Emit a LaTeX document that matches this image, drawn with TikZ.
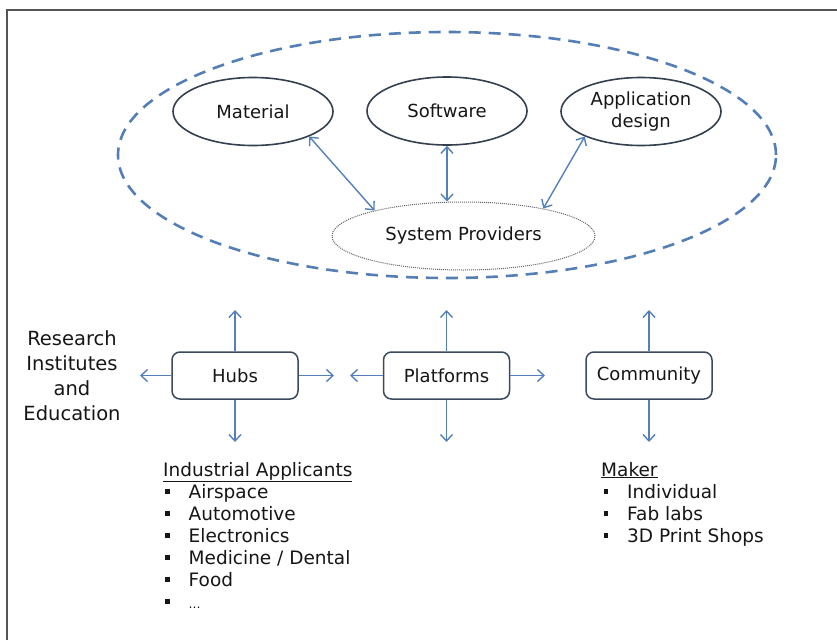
\documentclass[tikz,border=0pt]{standalone}
\usepackage{fontspec}
\setmainfont{DejaVu Sans}
\usetikzlibrary{shapes.geometric,arrows.meta}

\definecolor{txt}{RGB}{22,22,22}
\definecolor{ovalline}{RGB}{52,64,80}
\definecolor{boxline}{RGB}{58,74,92}
\definecolor{arrowblue}{RGB}{84,128,186}
\definecolor{dashblue}{RGB}{84,126,182}
\definecolor{framegray}{RGB}{85,85,85}
\definecolor{dotgray}{RGB}{100,100,108}

% square list bullet
\newcommand{\blt}{\rule[4.5pt]{4.5pt}{5pt}}
\newcommand{\labelfont}{\fontsize{18}{22}\selectfont}
\newcommand{\listfont}{\fontsize{18.5}{22}\selectfont}

\begin{document}
\begin{tikzpicture}[x=1pt,y=-1pt,
  oval/.style={ellipse, draw=ovalline, line width=1.6pt, minimum width=160pt,
    minimum height=68pt, inner sep=0pt, align=center, font=\labelfont, text=txt},
  sysoval/.style={ellipse, draw=dotgray, line width=1pt, dash pattern=on 1pt off 1pt,
    minimum width=263pt, minimum height=68pt, inner sep=0pt, font=\labelfont, text=txt},
  group/.style={ellipse, draw=dashblue, line width=2.6pt, dash pattern=on 12pt off 8pt,
    minimum width=658pt, minimum height=246pt, inner sep=0pt},
  unit/.style={rectangle, rounded corners=8pt, draw=boxline, line width=1.5pt,
    minimum width=126pt, minimum height=47pt, inner sep=0pt, font=\labelfont, text=txt},
  link/.style={draw=arrowblue, line width=1.4pt,
    {Straight Barb[length=6.5pt,width=12pt]}-{Straight Barb[length=6.5pt,width=12pt]}},
  flow/.style={draw=arrowblue, line width=1.4pt, -{Straight Barb[length=6.5pt,width=12pt]}},
  lst/.style={anchor=base west, inner sep=0pt, text=txt, font=\listfont}
]
\useasboundingbox (0,0) rectangle (837,640);

% page frame
\draw[framegray, line width=2pt] (7,640) -- (7,10) -- (837,10);

% value-chain cluster
\node[group] (cluster) at (447,155) {};
\node[oval] (mat) at (253,111.5) {Material};
\node[oval] (sw)  at (447,111)   {Software};
\node[oval] (app) at (641,111.5) {Application\\design};
\node[sysoval] (sp) at (463.5,236) {System Providers};

\draw[link] (mat.-24) -- (sp.164);
\draw[link] (sw.south) -- (sw.south |- sp.north);
\draw[link] (app.-156) -- (sp.19);

% organisational layer
\node[unit] (hubs) at (235,375.5)   {Hubs};
\node[unit] (plat) at (446.5,375.5) {Platforms};
\node[unit] (comm) at (649,375.5)   {Community};

\node[font=\fontsize{19.5}{25}\selectfont, align=center, text=txt] (research)
  at (72,375.5) {Research\\Institutes\\and\\Education};

\coordinate (hubsU) at (235,310);
\coordinate (hubsD) at (235,442);
\coordinate (hubsL) at (140,375.5);
\coordinate (hubsR) at (334,375.5);
\coordinate (platU) at (446.5,310);
\coordinate (platD) at (446.5,442);
\coordinate (platL) at (350,375.5);
\coordinate (platR) at (545,375.5);
\coordinate (commU) at (649,310);
\coordinate (commD) at (649,442);

\draw[flow] (hubs.north) -- (hubsU);
\draw[flow] (hubs.south) -- (hubsD);
\draw[flow] (hubs.west)  -- (hubsL);
\draw[flow] (hubs.east)  -- (hubsR);
\draw[flow] (plat.north) -- (platU);
\draw[flow] (plat.south) -- (platD);
\draw[flow] (plat.west)  -- (platL);
\draw[flow] (plat.east)  -- (platR);
\draw[flow] (comm.north) -- (commU);
\draw[flow] (comm.south) -- (commD);

% user groups
\node[lst] (ind) at (163,476) {\begin{tabular}[t]{@{\hspace{2pt}}l@{\hspace{19pt}}l@{}}
  \multicolumn{2}{@{}l@{}}{\underline{Industrial Applicants}}\\
  \blt & Airspace\\
  \blt & Automotive\\
  \blt & Electronics\\
  \blt & Medicine / Dental\\
  \blt & Food\\
  \blt & {\fontsize{12}{22}\selectfont\dots}
\end{tabular}};

\node[lst] (maker) at (601,476) {\begin{tabular}[t]{@{\hspace{2.5pt}}l@{\hspace{19pt}}l@{}}
  \multicolumn{2}{@{}l@{}}{\underline{Maker}}\\
  \blt & Individual\\
  \blt & Fab labs\\
  \blt & 3D Print Shops
\end{tabular}};
\end{tikzpicture}
\end{document}
